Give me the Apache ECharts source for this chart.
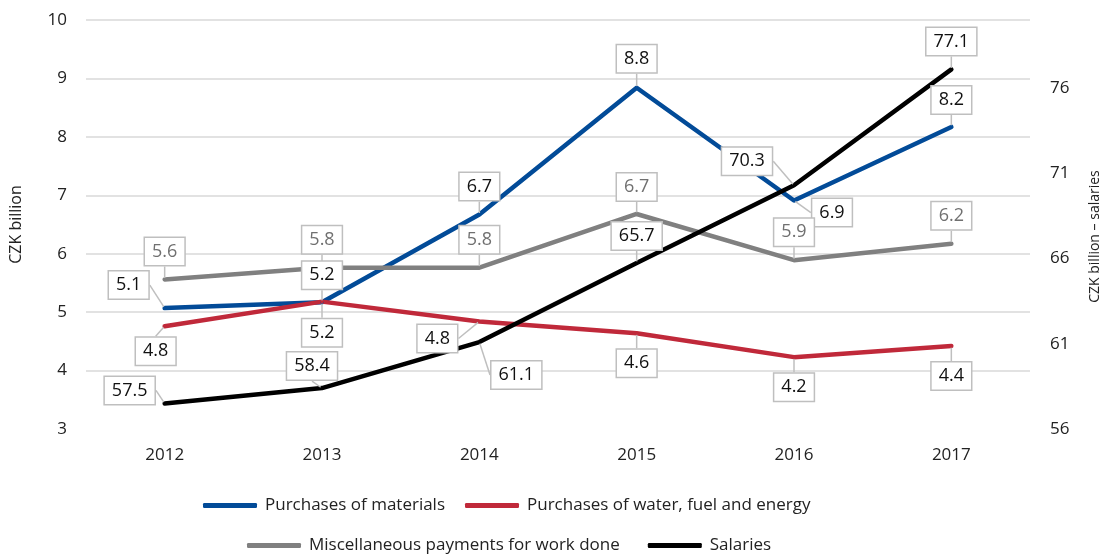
<!DOCTYPE html>
<html>
<head>
<meta charset="utf-8">
<script src="https://cdn.jsdelivr.net/npm/echarts@6/dist/echarts.min.js"></script>
<style>
    html, body {margin: 0; padding: 0; background: #fff;}
    #chart {width: 1110px; height: 554px;}
</style>
</head>
<body>
<div id="chart"></div>
<script>
// ------------------ data ------------------
var years = ['2012', '2013', '2014', '2015', '2016', '2017'];
var materials = [5.07, 5.17, 6.67, 8.84, 6.91, 8.17];
var waterFuelEnergy = [4.76, 5.18, 4.84, 4.64, 4.23, 4.42];
var miscPayments = [5.56, 5.76, 5.76, 6.68, 5.89, 6.17];
var salaries = [57.5, 58.4, 61.1, 65.74, 70.3, 77.1];

// label box shifts from its point (px), per series
var labelShift = [
    [[-36, -23], [0, -27], [0, -28], [0, -29], [38, 12], [0, -27]],
    [[-9, 25], [0, 31], [-42, 17], [0, 30], [0, 30], [0, 30]],
    [[0, -28], [0, -28], [0, -28], [0, -27], [0, -28], [0, -28]],
    [[-35, -13], [-10, -22], [37, 33], [0, -27], [-47, -24], [0, -28]]
];

var FONT = '"Open Sans", "Noto Sans", sans-serif';

function lineSeries(name, data, color, textColor, yIndex) {
    return {
        name: name,
        type: 'line',
        yAxisIndex: yIndex,
        data: data,
        symbol: 'circle',
        symbolSize: 3,
        showSymbol: true,
        itemStyle: {color: color},
        lineStyle: {color: color, width: 4.5, cap: 'round', join: 'round'},
        label: {
            show: true,
            position: 'inside',
            formatter: function (p) { return p.value.toFixed(1); },
            fontFamily: FONT,
            fontSize: 18,
            color: textColor,
            backgroundColor: '#fff',
            borderColor: '#bfbfbf',
            borderWidth: 1.5,
            padding: [5, 7, 4, 7]
        },
        labelLine: {
            show: true,
            lineStyle: {color: '#bfbfbf', width: 1.5}
        },
        emphasis: {disabled: true}
    };
}

var myChart = echarts.init(document.getElementById('chart'), null, {renderer: 'canvas'});

var option = {
    animation: false,
    textStyle: {fontFamily: FONT},
    grid: {left: 81, right: 76, top: 20, bottom: 125},
    legend: [
        {
            data: ['Purchases of materials', 'Purchases of water, fuel and energy'],
            left: 203, top: 497, padding: 0,
            icon: 'roundRect', itemWidth: 54, itemHeight: 5, itemGap: 20,
            textStyle: {fontFamily: FONT, fontSize: 17, color: '#222', padding: [0, 0, 0, 3]}
        },
        {
            data: ['Miscellaneous payments for work done', 'Salaries'],
            left: 247, top: 537, padding: 0,
            icon: 'roundRect', itemWidth: 54, itemHeight: 5, itemGap: 28,
            textStyle: {fontFamily: FONT, fontSize: 17, color: '#222', padding: [0, 0, 0, 3]}
        }
    ],
    xAxis: {
        type: 'category',
        data: years,
        boundaryGap: true,
        axisLine: {show: false},
        axisTick: {show: false},
        axisLabel: {fontFamily: FONT, fontSize: 17, color: '#222', margin: 18}
    },
    yAxis: [
        {
            type: 'value',
            min: 3, max: 10, interval: 1,
            name: 'CZK billion',
            nameLocation: 'middle',
            nameGap: 62,
            nameTextStyle: {fontFamily: FONT, fontSize: 16, color: '#222'},
            axisLine: {show: false},
            axisTick: {show: false},
            axisLabel: {fontFamily: FONT, fontSize: 17, color: '#222', margin: 19},
            splitLine: {show: true, showMinLine: false, lineStyle: {color: '#d9d9d9', width: 1.5}}
        },
        {
            type: 'value',
            min: 56, max: 80, interval: 5,
            position: 'right',
            name: 'CZK billion – salaries',
            nameLocation: 'middle',
            nameGap: 58,
            nameRotate: 90,
            nameTextStyle: {fontFamily: FONT, fontSize: 14, color: '#222', padding: [0, 24, 0, 0]},
            axisLine: {show: false},
            axisTick: {show: false},
            axisLabel: {fontFamily: FONT, fontSize: 17, color: '#222', margin: 20, showMaxLabel: false},
            splitLine: {show: false}
        }
    ],
    labelLayout: function (params) {
        var s = labelShift[params.seriesIndex][params.dataIndex];
        return {dx: s[0], dy: s[1]};
    },
    series: [
        lineSeries('Purchases of materials', materials, '#024b98', '#111', 0),
        lineSeries('Purchases of water, fuel and energy', waterFuelEnergy, '#c0293a', '#111', 0),
        lineSeries('Miscellaneous payments for work done', miscPayments, '#808080', '#707070', 0),
        lineSeries('Salaries', salaries, '#000000', '#111', 1)
    ]
};
myChart.setOption(option);
</script>
</body>
</html>
